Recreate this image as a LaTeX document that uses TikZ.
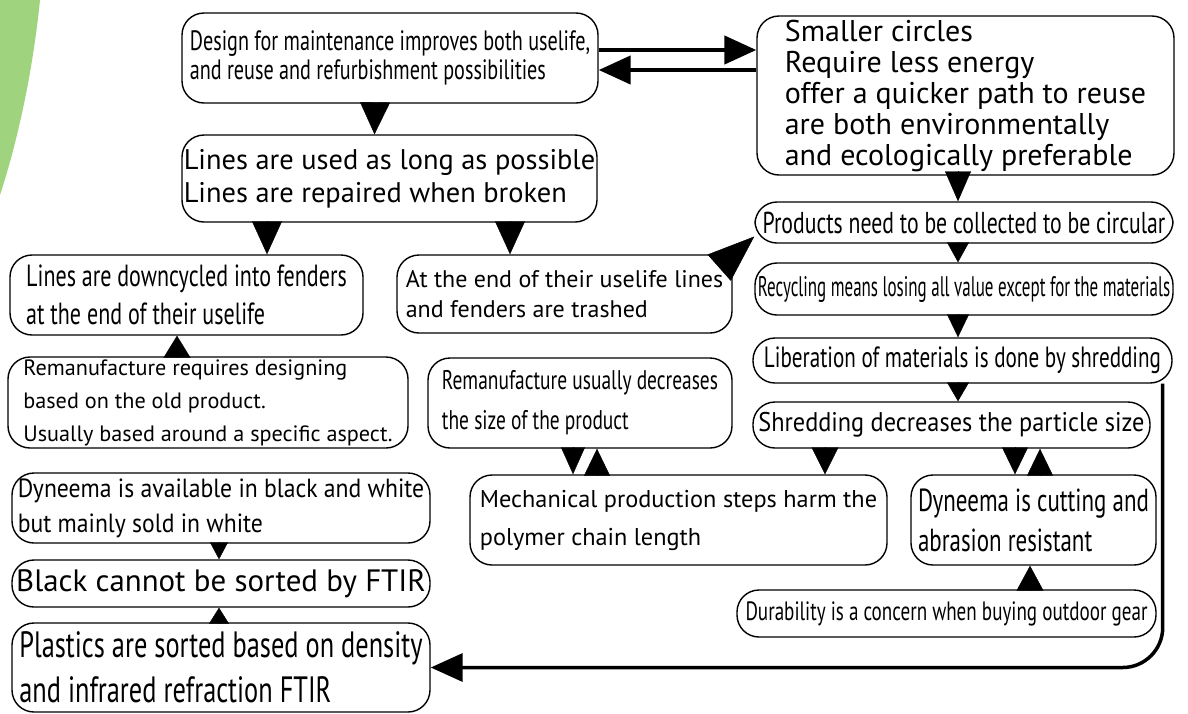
\documentclass[tikz,border=0pt]{standalone}
\usepackage{fontspec}
\newfontfamily\plainsans{PT Sans}
\newfontfamily\semisans[FakeStretch=0.9]{PT Sans}
\newfontfamily\narrowsans[FakeStretch=0.72]{PT Sans}
\newfontfamily\tightsans[FakeStretch=0.6]{PT Sans}
\usetikzlibrary{arrows.meta}
\definecolor{leafgreen}{RGB}{160,211,126}

\tikzset{
  box/.style={draw, line width=1.4pt, rounded corners=22pt, inner sep=0pt, align=left},
  tri/.style 2 args={line width=0.4pt, -{Triangle[length=#1,width=#2]}},
  fatarrow/.style={line width=4.5pt, -{Triangle[length=32pt,width=28pt]}}
}

\begin{document}
\begin{tikzpicture}[x=1pt,y=-1pt]
  \useasboundingbox (0,0) rectangle (1188,713);
  \fill[leafgreen] (0,0) -- (40,0) .. controls (33,70) and (18,140) .. (0,195) -- cycle;

  % left and middle column
  \node[box, minimum width=416pt, minimum height=90pt, font=\narrowsans\fontsize{28}{29}\selectfont] (design) at (390,58)
    {Design for maintenance improves both uselife,\\and reuse and refurbishment possibilities};
  \node[box, minimum width=415pt, minimum height=87pt, font=\plainsans\fontsize{28.4}{33}\selectfont] (lines) at (389.5,178.5)
    {Lines are used as long as possible\\Lines are repaired when broken};
  \node[box, minimum width=353pt, minimum height=80pt, font=\narrowsans\fontsize{30.6}{38}\selectfont] (downcycle) at (186.5,295)
    {Lines are downcycled into fenders\\at the end of their uselife};
  \node[box, minimum width=335pt, minimum height=78pt, font=\plainsans\fontsize{24}{30}\selectfont] (trashed) at (564.5,294)
    {At the end of their uselife lines\\and fenders are trashed};
  \node[box, minimum width=400pt, minimum height=91pt, font=\plainsans\fontsize{22.2}{33}\selectfont] (remanuf) at (208,402.5)
    {Remanufacture requires designing\\based on the old product.\\Usually based around a specific aspect.};
  \node[box, minimum width=304pt, minimum height=90pt, font=\narrowsans\fontsize{27}{40}\selectfont] (decrease) at (580,403)
    {Remanufacture usually decreases\\the size of the product};
  \node[box, minimum width=417pt, minimum height=90pt, font=\plainsans\fontsize{24.3}{38}\selectfont] (mech) at (678.5,520)
    {Mechanical production steps harm the\\polymer chain length};
  \node[box, minimum width=418pt, minimum height=70pt, font=\semisans\fontsize{26.3}{35}\selectfont] (dyneema) at (221,508)
    {Dyneema is available in black and white\\but mainly sold in white};
  \node[box, minimum width=418pt, minimum height=47pt, font=\plainsans\fontsize{30.9}{36}\selectfont] (black) at (221,583.5)
    {Black cannot be sorted by FTIR};
  \node[box, minimum width=418pt, minimum height=89pt, font=\narrowsans\fontsize{36.6}{45}\selectfont] (sorted) at (221,667.5)
    {Plastics are sorted based on density\\and infrared refraction FTIR};

  % right column
  \node[box, minimum width=417pt, minimum height=159pt, font=\plainsans\fontsize{30}{31}\selectfont] (circles) at (965.5,95.5)
    {Smaller circles\\Require less energy\\offer a quicker path to reuse\\are both environmentally\\and ecologically preferable};
  \node[box, minimum width=418pt, minimum height=41pt, font=\narrowsans\fontsize{30.2}{30}\selectfont] (collect) at (964,222.5)
    {Products need to be collected to be circular};
  \node[box, minimum width=418pt, minimum height=52pt, font=\tightsans\fontsize{28.3}{30}\selectfont] (recycle) at (964,289)
    {Recycling means losing all value except for the materials};
  \node[box, minimum width=419pt, minimum height=45pt, font=\narrowsans\fontsize{29.3}{30}\selectfont] (liberate) at (962.5,360.5)
    {Liberation of materials is done by shredding};
  \node[box, minimum width=397pt, minimum height=46pt, font=\semisans\fontsize{27}{30}\selectfont] (shred) at (951.5,425)
    {Shredding decreases the particle size};
  \node[box, minimum width=245pt, minimum height=90pt, font=\narrowsans\fontsize{31.9}{40}\selectfont] (cutting) at (1033.5,520)
    {Dyneema is cutting and\\abrasion resistant};
  \node[box, minimum width=419pt, minimum height=47pt, font=\narrowsans\fontsize{26.5}{30}\selectfont] (durable) at (946.5,613.5)
    {Durability is a concern when buying outdoor gear};

  % small triangles between boxes
  \draw[tri={32pt}{30pt}] ([xshift=-15pt]design.south) -- ([xshift=-15pt]lines.north);
  \draw[tri={33pt}{30pt}] ([xshift=-122.5pt]lines.south) -- ([xshift=80.5pt]downcycle.north);
  \draw[tri={33pt}{30pt}] ([xshift=120.5pt]lines.south) -- ([xshift=-54.5pt]trashed.north);
  \draw[tri={22pt}{27pt}] ([xshift=-31pt]remanuf.north) -- ([xshift=-9.5pt]downcycle.south);
  \draw[tri={27pt}{24pt}] ([xshift=-7pt]decrease.south) -- ([xshift=-105.5pt]mech.north);
  \draw[tri={27pt}{26pt}] ([xshift=-81.5pt]mech.north) -- ([xshift=17pt]decrease.south);
  \draw[tri={17pt}{18pt}] ([xshift=-2pt]dyneema.south) -- ([xshift=-2pt]black.north);
  \draw[tri={16pt}{20pt}] ([xshift=-2pt]sorted.north) -- ([xshift=-2pt]black.south);
  \draw[tri={30pt}{26pt}] ([xshift=-7.5pt]circles.south) -- ([xshift=-6pt]collect.north);
  \draw[tri={20pt}{22pt}] ([xshift=-6pt]collect.south) -- ([xshift=-6pt]recycle.north);
  \draw[tri={23pt}{22pt}] ([xshift=-6pt]recycle.south) -- ([xshift=-4.5pt]liberate.north);
  \draw[tri={19pt}{22pt}] ([xshift=-4.5pt]liberate.south) -- ([xshift=6.5pt]shred.north);
  \draw[tri={27pt}{27pt}] ([xshift=-126.5pt]shred.south) -- ([xshift=146.5pt]mech.north);
  \draw[tri={27pt}{26pt}] ([xshift=63.5pt]shred.south) -- ([xshift=-18.5pt]cutting.north);
  \draw[tri={27pt}{26pt}] ([xshift=6.5pt]cutting.north) -- ([xshift=88.5pt]shred.south);
  \draw[tri={25pt}{27pt}] ([xshift=83.5pt]durable.north) -- ([xshift=-3.5pt]cutting.south);
  \draw[tri={47pt}{35pt}] ([xshift=-12pt,yshift=-12pt]trashed.north east) -- ([yshift=-14pt]collect.west);

  % thick arrows
  \coordinate (aout) at ([yshift=8pt]design.east);
  \coordinate (aback) at ([yshift=-12pt]design.east);
  \draw[fatarrow] (aout) -- (aout -| circles.west);
  \draw[fatarrow] (aback -| circles.west) -- (aback);
  \coordinate (drop) at ([xshift=-10pt]liberate.south east);
  \draw[fatarrow, line width=3.5pt, rounded corners=40pt] (drop) |- (sorted.east);
\end{tikzpicture}
\end{document}
